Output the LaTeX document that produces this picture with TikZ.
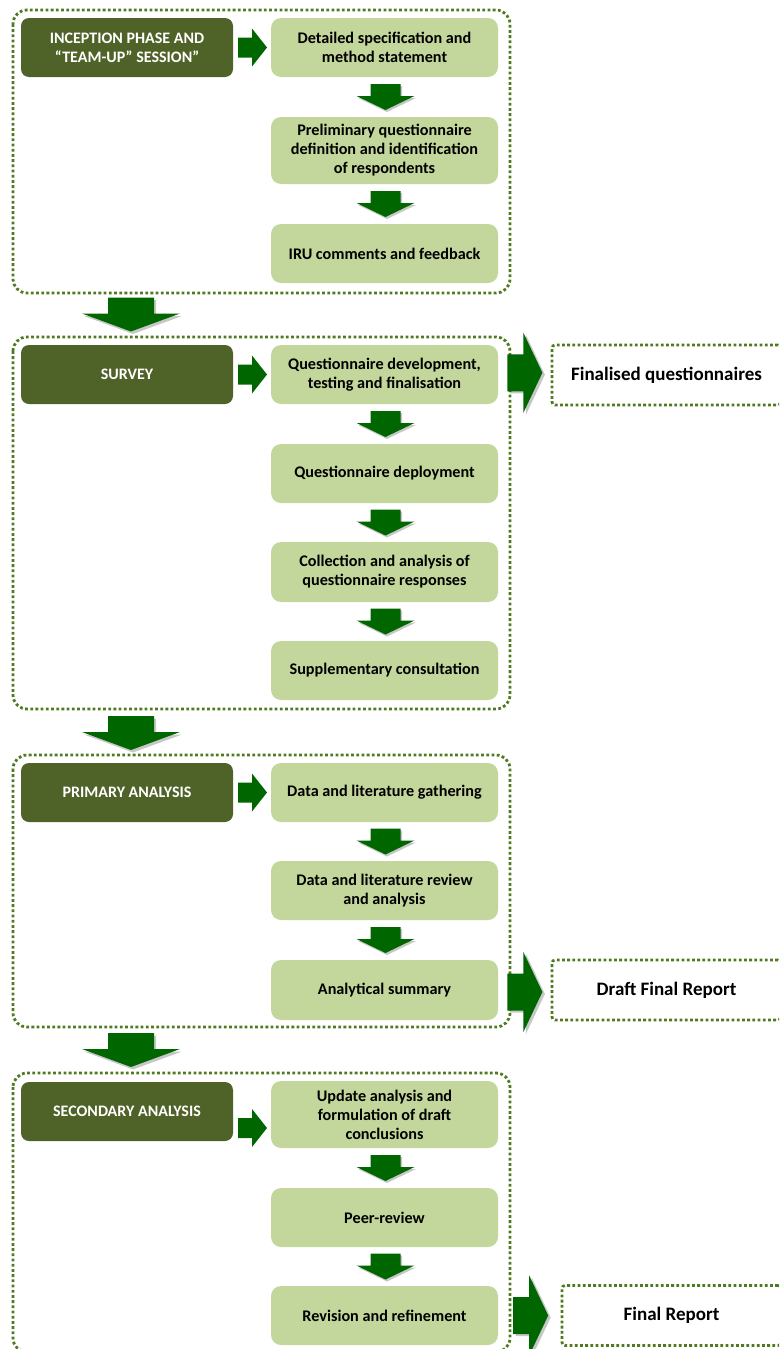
\documentclass[tikz,border=0pt]{standalone}
\usepackage{fontspec}
\setmainfont{Carlito}
\usetikzlibrary{calc}

\definecolor{phasegreen}{RGB}{79,98,40}
\definecolor{stepgreen}{RGB}{195,214,155}
\definecolor{arrowgreen}{RGB}{0,102,0}
\definecolor{dotgreen}{RGB}{80,122,32}

\tikzset{
  phasebox/.style={fill=phasegreen, rounded corners=8pt, minimum width=212pt,
    minimum height=59pt, text=white, align=center,
    font=\bfseries\fontsize{16}{19}\selectfont},
  stepbox/.style={fill=stepgreen, rounded corners=10pt, minimum width=227pt,
    minimum height=59pt, text=black, align=center,
    font=\bfseries\fontsize{16.2}{19}\selectfont},
  outbox/.style={draw=dotgreen, line width=2.8pt, dash pattern=on 2.8pt off 2.4pt,
    rounded corners=3pt, minimum width=229pt, minimum height=60pt,
    font=\bfseries\fontsize{19}{22}\selectfont},
  phaseframe/.style={draw=dotgreen, line width=2.8pt, dash pattern=on 2.8pt off 2.4pt,
    rounded corners=14pt},
  arrowshadow/.style={fill=black, opacity=.22},
  % small arrow between two steps
  dnarrow/.pic={
    \fill[arrowshadow, shift={(1.5,2)}] (-15,-13) -- (15,-13) -- (15,-1) -- (29,-1) -- (0,13) -- (-29,-1) -- (-15,-1) -- cycle;
    \fill[arrowgreen] (-15,-13) -- (15,-13) -- (15,-1) -- (29,-1) -- (0,13) -- (-29,-1) -- (-15,-1) -- cycle;
  },
  % small arrow from phase to first step
  rtarrow/.pic={
    \fill[arrowgreen] (-14,-10) -- (0,-10) -- (0,-19) -- (15,0) -- (0,19) -- (0,10) -- (-14,10) -- cycle;
  },
  % big arrow between phases
  bigdnarrow/.pic={
    \fill[arrowshadow, shift={(2,2.5)}] (-23,-17) -- (23,-17) -- (23,-1) -- (49,-1) -- (0,17) -- (-49,-1) -- (-23,-1) -- cycle;
    \fill[arrowgreen] (-23,-17) -- (23,-17) -- (23,-1) -- (49,-1) -- (0,17) -- (-49,-1) -- (-23,-1) -- cycle;
  },
  % big arrow to a deliverable
  bigrtarrow/.pic={
    \fill[arrowshadow, shift={(2.5,2)}] (-17,-18.5) -- (-1,-18.5) -- (-1,-40) -- (18,0) -- (-1,40) -- (-1,18.5) -- (-17,18.5) -- cycle;
    \fill[arrowgreen] (-17,-18.5) -- (-1,-18.5) -- (-1,-40) -- (18,0) -- (-1,40) -- (-1,18.5) -- (-17,18.5) -- cycle;
  }
}

\begin{document}
\begin{tikzpicture}[x=1pt, y=-1pt]

    \useasboundingbox (0,0) rectangle (779,1349);
    \clip (0,0) rectangle (779,1349);

    % the four phase frames
    \draw[phaseframe] (13,10) rectangle (510,293);
    \draw[phaseframe] (13,337) rectangle (510,709);
    \draw[phaseframe] (13,755) rectangle (510,1027);
    \draw[phaseframe] (13,1073) rectangle (510,1352);

    % inception phase
    \node[phasebox] (ph1) at (127,47.5) {INCEPTION PHASE AND\\“TEAM-UP” SESSION”};
    \node[stepbox] (st11) at (384.5,47.5) {Detailed specification and\\method statement};
    \node[stepbox, minimum height=67pt] (st12) at (384.5,150.5) {Preliminary questionnaire\\definition and identification\\of respondents};
    \node[stepbox] (st13) at (384.5,253.5) {IRU comments and feedback};

    % survey
    \node[phasebox] (ph2) at (127,374.5) {SURVEY};
    \node[stepbox] (st21) at (384.5,374.5) {Questionnaire development,\\testing and finalisation};
    \node[stepbox] (st22) at (384.5,473.5) {Questionnaire deployment};
    \node[stepbox, minimum height=60pt] (st23) at (384.5,572) {Collection and analysis of\\questionnaire responses};
    \node[stepbox] (st24) at (384.5,670.5) {Supplementary consultation};
    \node[outbox] (out2) at (666.5,375) {Finalised questionnaires};

    % primary analysis
    \node[phasebox] (ph3) at (127,792.5) {PRIMARY ANALYSIS};
    \node[stepbox] (st31) at (384.5,792.5) {Data and literature gathering};
    \node[stepbox] (st32) at (384.5,890.5) {Data and literature review\\and analysis};
    \node[stepbox, minimum height=60pt] (st33) at (384.5,990) {Analytical summary};
    \node[outbox] (out3) at (666.5,990) {Draft Final Report};

    % secondary analysis
    \node[phasebox] (ph4) at (127,1111.5) {SECONDARY ANALYSIS};
    \node[stepbox, minimum height=67pt] (st41) at (384.5,1114.5) {Update analysis and\\formulation of draft\\conclusions};
    \node[stepbox] (st42) at (384.5,1217.5) {Peer-review};
    \node[stepbox] (st43) at (384.5,1315.5) {Revision and refinement};
    \node[outbox, minimum width=219pt] (out4) at (671.5,1315.5) {Final Report};

    % arrows phase -> first step
    \pic at ($(ph1.east)!.5!(st11.west)$) {rtarrow};
    \pic at ($(ph2.east)!.5!(st21.west)$) {rtarrow};
    \pic at ($(ph3.east)!.5!(st31.west)$) {rtarrow};
    \pic at ($(ph4.east)!.5!(st41.west)+(0,15)$) {rtarrow};

    % arrows step -> step
    \foreach \a/\b in {st11/st12, st12/st13, st21/st22, st22/st23, st23/st24,
                       st31/st32, st32/st33, st41/st42, st42/st43}
        \pic at ($(\a.south)!.5!(\b.north)+(1,0)$) {dnarrow};

    % arrows phase -> phase
    \pic at (131,314.5) {bigdnarrow};
    \pic at (131,733) {bigdnarrow};
    \pic at (131,1050) {bigdnarrow};

    % arrows to deliverables
    \pic at ($(st21.east)!.5!(out2.west)+(0,-2)$) {bigrtarrow};
    \pic at ($(st33.east)!.5!(out3.west)+(0,2)$) {bigrtarrow};
    \pic at ($(st43.east |- st43)+(32,0)$) {bigrtarrow};

\end{tikzpicture}
\end{document}
